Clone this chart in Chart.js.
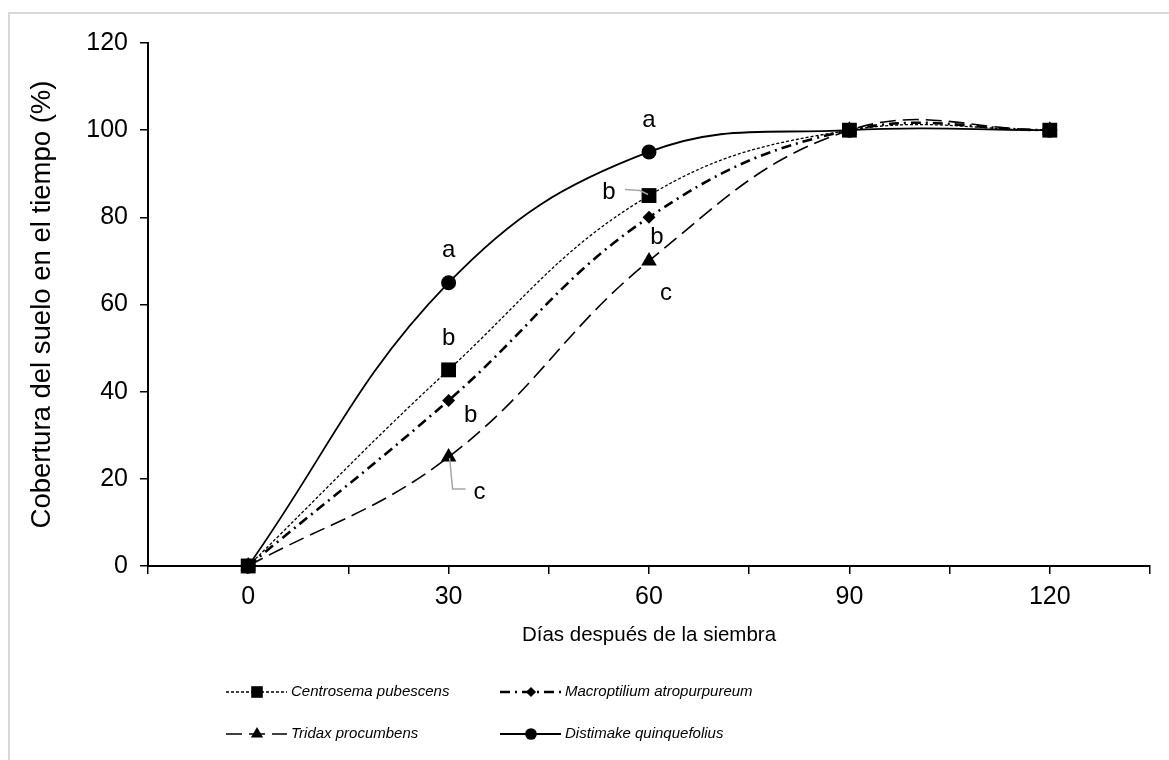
<!DOCTYPE html>
<html>
<head>
<meta charset="utf-8">
<script src="https://cdn.jsdelivr.net/npm/chart.js@4.4.1/dist/chart.umd.min.js"></script>
<style>
  html, body { margin: 0; padding: 0; background: #fff; }
  #wrap { position: relative; width: 1169px; height: 760px; overflow: hidden; }
  #frame { position: absolute; left: 8px; top: 12px; width: 1300px; height: 900px;
           border-left: 2px solid #d9d9d9; border-top: 2px solid #d9d9d9; }
  canvas { position: absolute; left: 0; top: 0; }
</style>
</head>
<body>
<div id="wrap">
  <div id="frame"></div>
  <canvas id="chart" width="1169" height="760"></canvas>
</div>
<script>
// days after sowing
var dias = [0, 30, 60, 90, 120];

// ground cover (%)
var centrosema   = [0, 45, 85, 100, 100];
var macroptilium = [0, 38, 80, 100, 100];
var tridax       = [0, 25, 70, 100, 100];
var distimake    = [0, 65, 95, 100, 100];

// significance letters per point
var letrasCentrosema   = ['', 'b', 'b', '', ''];
var letrasMacroptilium = ['', 'b', 'b', '', ''];
var letrasTridax       = ['', 'c', 'c', '', ''];
var letrasDistimake    = ['', 'a', 'a', '', ''];

var nombres = ['Centrosema pubescens', 'Macroptilium atropurpureum', 'Tridax procumbens', 'Distimake quinquefolius'];

var FONT = "'Liberation Sans', Arial, sans-serif";

function pts(ys) {
  return dias.map(function(d, i) { return { x: d, y: ys[i] }; });
}

function marker(ctx, style, r, x, y) {
  ctx.beginPath();
  if (style === 'rect') {
    var s = r * Math.SQRT1_2;
    ctx.rect(x - s, y - s, 2 * s, 2 * s);
  } else if (style === 'rectRot') {
    ctx.moveTo(x, y - r); ctx.lineTo(x + r, y); ctx.lineTo(x, y + r); ctx.lineTo(x - r, y);
    ctx.closePath();
  } else if (style === 'triangle') {
    ctx.moveTo(x, y - r);
    ctx.lineTo(x + r * 0.866, y + r * 0.5);
    ctx.lineTo(x - r * 0.866, y + r * 0.5);
    ctx.closePath();
  } else {
    ctx.arc(x, y, r, 0, Math.PI * 2);
  }
  ctx.fillStyle = '#000';
  ctx.fill();
}

// letters: [dataset, point, dx, dy, leader line (relative to point) or null]
var letterPlacement = [
  [3, 1, 0, -32, null],
  [3, 2, 0, -32, null],
  [0, 1, 0, -32, null],
  [0, 2, -40, -3, [[-24, -6], [-9, -5], [-1, -1]]],
  [1, 1, 22, 15, null],
  [1, 2, 8, 20, null],
  [2, 1, 31, 35, [[1, 1], [4, 32], [17, 32]]],
  [2, 2, 17, 32, null]
];

var letrasPlugin = {
  id: 'letras',
  afterDatasetsDraw: function(chart) {
    var ctx = chart.ctx;
    var xs = chart.scales.x, ys = chart.scales.y;
    ctx.save();
    ctx.font = '24px ' + FONT;
    ctx.textAlign = 'center';
    ctx.textBaseline = 'middle';
    letterPlacement.forEach(function(lp) {
      var ds = chart.data.datasets[lp[0]];
      var p = ds.data[lp[1]];
      var px = xs.getPixelForValue(p.x), py = ys.getPixelForValue(p.y);
      if (lp[4]) {
        ctx.strokeStyle = '#a6a6a6';
        ctx.lineWidth = 1.5;
        ctx.setLineDash([]);
        ctx.beginPath();
        lp[4].forEach(function(q, k) {
          if (k === 0) ctx.moveTo(px + q[0], py + q[1]); else ctx.lineTo(px + q[0], py + q[1]);
        });
        ctx.stroke();
      }
      ctx.fillStyle = '#000';
      ctx.fillText(ds.letras[lp[1]], px + lp[2], py + lp[3]);
    });
    ctx.restore();
  }
};

var leyendaPlugin = {
  id: 'leyenda',
  afterDraw: function(chart) {
    var ctx = chart.ctx;
    var pos = [[226, 692], [500, 692], [226, 734], [500, 734]];
    ctx.save();
    chart.data.datasets.forEach(function(ds, i) {
      var x = pos[i][0], y = pos[i][1];
      ctx.strokeStyle = '#000';
      ctx.lineWidth = ds.borderWidth;
      ctx.setLineDash(ds.borderDash || []);
      ctx.beginPath();
      ctx.moveTo(x, y); ctx.lineTo(x + 61, y);
      ctx.stroke();
      ctx.setLineDash([]);
      marker(ctx, ds.pointStyle, ds.pointRadius * 0.78, x + 31, y);
      ctx.fillStyle = '#000';
      ctx.font = 'italic 15px ' + FONT;
      ctx.textAlign = 'left';
      ctx.textBaseline = 'middle';
      ctx.fillText(ds.label, x + 65, y);
    });
    ctx.restore();
  }
};

function serie(label, ys, letras, dash, width, style, radius) {
  return {
    label: label,
    data: pts(ys),
    letras: letras,
    borderColor: '#000',
    backgroundColor: '#000',
    borderWidth: width,
    borderDash: dash,
    pointStyle: style,
    pointRadius: radius,
    pointHoverRadius: radius,
    pointBackgroundColor: '#000',
    pointBorderColor: '#000',
    pointBorderWidth: 0,
    tension: 0.4,
    fill: false,
    clip: false
  };
}

new Chart(document.getElementById('chart'), {
  type: 'line',
  data: {
    datasets: [
      serie(nombres[0], centrosema, letrasCentrosema, [3, 2], 1.3, 'rect', 10.5),
      serie(nombres[1], macroptilium, letrasMacroptilium, [10, 5, 2, 5], 2.6, 'rectRot', 6.5),
      serie(nombres[2], tridax, letrasTridax, [16, 7], 1.6, 'triangle', 9),
      serie(nombres[3], distimake, letrasDistimake, [], 1.8, 'circle', 7.5)
    ]
  },
  options: {
    responsive: false,
    animation: false,
    devicePixelRatio: 1,
    layout: { padding: { left: 0, top: 43, right: 19, bottom: 100 } },
    plugins: {
      legend: { display: false },
      tooltip: { enabled: false }
    },
    scales: {
      x: {
        type: 'linear',
        min: -15,
        max: 135,
        afterFit: function(s) { s.height = 94; },
        ticks: {
          stepSize: 15,
          padding: 8,
          color: '#000',
          font: { family: FONT, size: 25 },
          maxRotation: 0,
          autoSkip: false,
          callback: function(v) { return (v >= 0 && v <= 120 && v % 30 === 0) ? String(v) : ''; }
        },
        grid: { drawOnChartArea: false, drawTicks: true, tickLength: 8, color: '#000', lineWidth: 1.5 },
        border: { display: true, color: '#000', width: 2 },
        title: {
          display: true,
          text: 'Días después de la siembra',
          color: '#000',
          font: { family: FONT, size: 20.5 },
          padding: { top: 0, bottom: 12 }
        }
      },
      y: {
        min: 0,
        max: 120,
        afterFit: function(s) { s.width = 148; },
        ticks: {
          stepSize: 20,
          padding: 12,
          color: '#000',
          font: { family: FONT, size: 25 }
        },
        grid: { drawOnChartArea: false, drawTicks: true, tickLength: 8, color: '#000', lineWidth: 1.5 },
        border: { display: true, color: '#000', width: 2 },
        title: {
          display: true,
          text: 'Cobertura del suelo en el tiempo (%)',
          color: '#000',
          font: { family: FONT, size: 27.5 },
          padding: { top: 26, bottom: 0 }
        }
      }
    }
  },
  plugins: [letrasPlugin, leyendaPlugin]
});
</script>
</body>
</html>
